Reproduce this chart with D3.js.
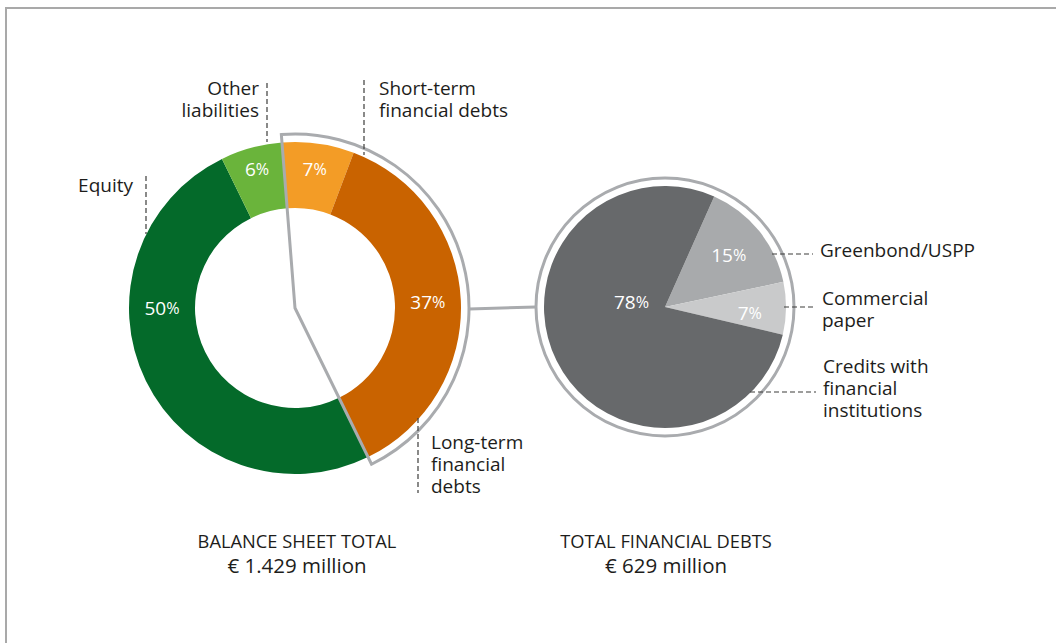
<!DOCTYPE html>
<html>
<head>
<meta charset="utf-8">
<script src="https://cdn.jsdelivr.net/npm/d3@7"></script>
<style>
  html, body { margin: 0; padding: 0; background: #fff; }
  svg { display: block; }
  text { font-family: "Open Sans", "Lato", sans-serif; }
</style>
</head>
<body>
<svg id="chart" width="1056" height="643"></svg>
<script>
// ---------- data ----------
const balanceCategories = ["Short-term financial debts", "Long-term financial debts", "Equity", "Other liabilities"];
const balanceValues = [7, 37, 50, 6];
const debtCategories = ["Greenbond/USPP", "Commercial paper", "Credits with financial institutions"];
const debtValues = [15, 7, 78];
const balanceTitle = ["BALANCE SHEET TOTAL", "€ 1.429 million"];
const debtTitle = ["TOTAL FINANCIAL DEBTS", "€ 629 million"];

// ---------- setup ----------
const svg = d3.select("#chart");
const deg = Math.PI / 180;

// frame (top + left only)
svg.append("path")
  .attr("d", "M6,643 L6,8 L1056,8")
  .attr("fill", "none").attr("stroke", "#a9a9a9").attr("stroke-width", 2);

const balanceColors = d3.scaleOrdinal().domain(balanceCategories)
  .range(["#f39c26", "#c96300", "#046a2a", "#6ab43b"]);
const debtColors = d3.scaleOrdinal().domain(debtCategories)
  .range(["#a8aaac", "#c9cacb", "#67696b"]);

// ---------- donut (balance sheet) ----------
const c1 = { x: 295, y: 308 };
const rOut = 166, rIn = 100;
const start1 = -4.5 * deg;
const pie1 = d3.pie().sort(null).value(d => d.v).startAngle(start1).endAngle(start1 + 2 * Math.PI);
const arcs1 = pie1(balanceCategories.map((c, i) => ({ c, v: balanceValues[i] })));
const arc1 = d3.arc().innerRadius(rIn).outerRadius(rOut);

const g1 = svg.append("g").attr("transform", `translate(${c1.x},${c1.y})`);
g1.selectAll("path.seg").data(arcs1).join("path")
  .attr("class", "seg")
  .attr("d", arc1)
  .attr("fill", d => balanceColors(d.data.c));

// highlight bracket around financial debts
const debtArcs = arcs1.filter(d => d.data.c.indexOf("financial debts") >= 0);
const bracketStart = d3.min(debtArcs, d => d.startAngle);
const bracketEnd = d3.max(debtArcs, d => d.endAngle);
const bracketR = 174;
g1.append("path")
  .attr("d", d3.arc().innerRadius(0).outerRadius(bracketR)({ startAngle: bracketStart, endAngle: bracketEnd }))
  .attr("fill", "none").attr("stroke", "#a9abae").attr("stroke-width", 3).attr("stroke-linejoin", "miter");

// percentage labels
function pctLabel(g, x, y, val, size) {
  const t = g.append("text")
    .attr("x", x).attr("y", y)
    .attr("text-anchor", "middle").attr("dominant-baseline", "central")
    .attr("fill", "#fff").attr("font-size", size).attr("font-weight", 500);
  t.append("tspan").text(val);
  t.append("tspan").attr("font-size", size * 0.85).text("%");
}
const labelPlace1 = {
  "Short-term financial debts": { r: 140, a: null },
  "Long-term financial debts": { r: 133, a: null },
  "Equity": { r: 133, a: -90 },
  "Other liabilities": { r: 144, a: null }
};
arcs1.forEach(d => {
  const p = labelPlace1[d.data.c];
  const a = p.a !== null ? p.a * deg : (d.startAngle + d.endAngle) / 2;
  pctLabel(g1, p.r * Math.sin(a), -p.r * Math.cos(a), d.data.v, 19);
});

// ---------- pie (financial debts) ----------
const c2 = { x: 665, y: 307 };
const rPie = 121, rRing = 129;
const start2 = 24 * deg;
const pie2 = d3.pie().sort(null).value(d => d.v).startAngle(start2).endAngle(start2 + 2 * Math.PI);
const arcs2 = pie2(debtCategories.map((c, i) => ({ c, v: debtValues[i] })));
const arc2 = d3.arc().innerRadius(0).outerRadius(rPie);

// connector line from bracket to ring
svg.append("line")
  .attr("x1", c1.x + bracketR).attr("y1", 309)
  .attr("x2", c2.x - rRing).attr("y2", 307)
  .attr("stroke", "#a9abae").attr("stroke-width", 3);

const g2 = svg.append("g").attr("transform", `translate(${c2.x},${c2.y})`);
g2.append("circle").attr("r", rRing).attr("fill", "none").attr("stroke", "#a9abae").attr("stroke-width", 3);
g2.selectAll("path.seg").data(arcs2).join("path")
  .attr("class", "seg")
  .attr("d", arc2)
  .attr("fill", d => debtColors(d.data.c));

const labelPlace2 = {
  "Greenbond/USPP": { r: 82, a: null },
  "Commercial paper": { r: 85, a: 94 },
  "Credits with financial institutions": { r: 34, a: -81 }
};
arcs2.forEach(d => {
  const p = labelPlace2[d.data.c];
  const a = p.a !== null ? p.a * deg : (d.startAngle + d.endAngle) / 2;
  pctLabel(g2, p.r * Math.sin(a), -p.r * Math.cos(a), d.data.v, 19);
});

// ---------- category labels with dashed leaders ----------
const lblSize = 19, lh = 22;
function catLabel(lines, x, y, anchor) {
  lines.forEach((l, i) => svg.append("text")
    .attr("x", x).attr("y", y + i * lh)
    .attr("text-anchor", anchor).attr("font-size", lblSize).attr("fill", "#1d1d1b")
    .text(l));
}
function dash(x1, y1, x2, y2) {
  svg.append("line").attr("x1", x1).attr("y1", y1).attr("x2", x2).attr("y2", y2)
    .attr("stroke", "#3c3c3b").attr("stroke-width", 1.2).attr("stroke-dasharray", "5,3");
}

catLabel(["Equity"], 133, 192, "end");
dash(146, 176, 146, 234);

catLabel(["Other", "liabilities"], 259, 95, "end");
dash(267, 83, 267, 142);

catLabel(["Short-term", "financial debts"], 379, 95, "start");
dash(364, 80, 364, 155);

catLabel(["Long-term", "financial", "debts"], 431, 449, "start");
dash(418, 418, 418, 493);

catLabel(["Greenbond/USPP"], 820, 257, "start");
dash(772, 254, 813, 254);

catLabel(["Commercial", "paper"], 822, 305, "start");
dash(784, 307, 814, 307);

catLabel(["Credits with", "financial", "institutions"], 823, 373, "start");
dash(750, 392, 816, 392);

// ---------- totals ----------
function total(lines, x) {
  svg.append("text").attr("x", x).attr("y", 548).attr("text-anchor", "middle")
    .attr("font-family", "Lato, sans-serif")
    .attr("font-size", 18.3).attr("fill", "#1d1d1b").text(lines[0]);
  svg.append("text").attr("x", x).attr("y", 573).attr("text-anchor", "middle")
    .attr("font-family", "Lato, sans-serif")
    .attr("font-size", 20.5).attr("fill", "#1d1d1b").text(lines[1]);
}
total(balanceTitle, 297);
total(debtTitle, 666);
</script>
</body>
</html>
